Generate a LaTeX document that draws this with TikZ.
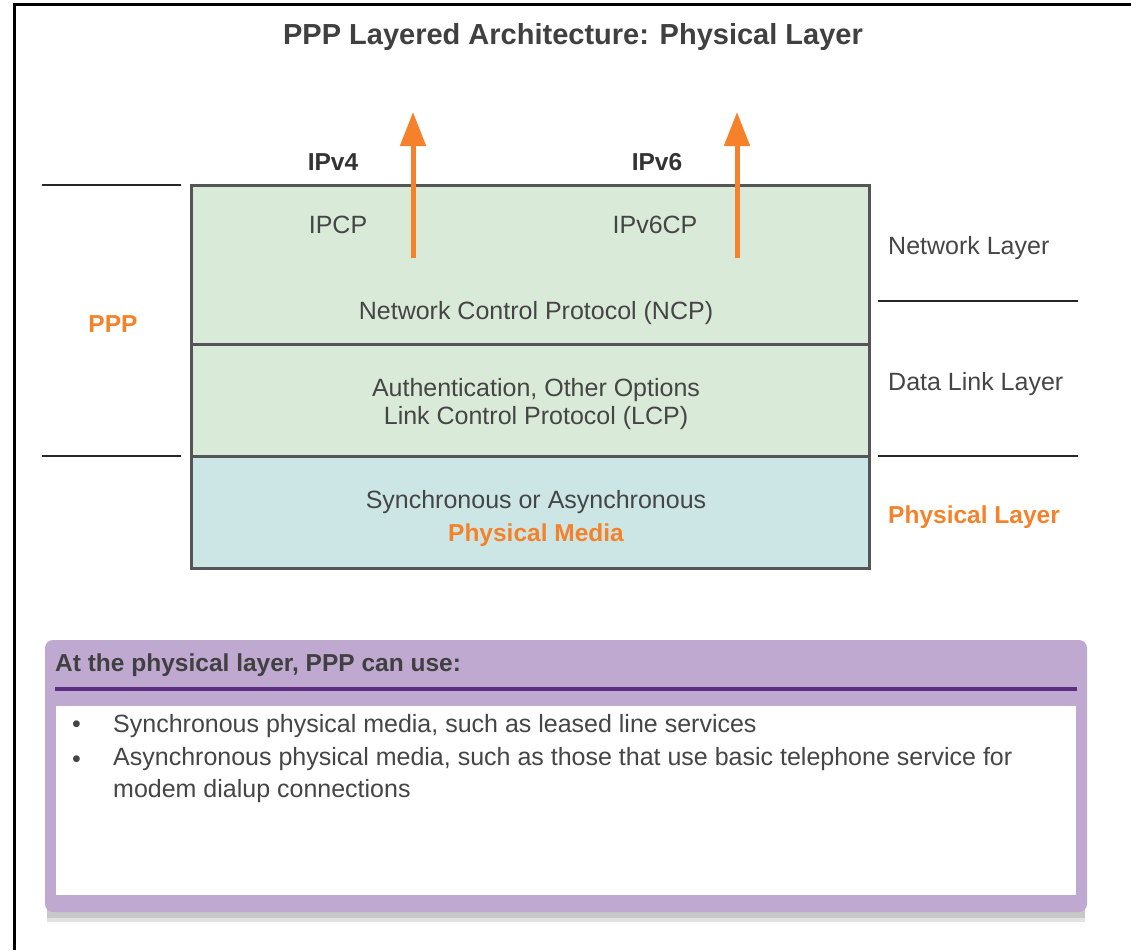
\documentclass[tikz,border=0pt]{standalone}
\usepackage{fontspec}
\setmainfont{Liberation Sans}
\usepackage{xcolor}
\usepackage{tikz}
\usetikzlibrary{arrows.meta,positioning,shadows}

\definecolor{txtgray}{HTML}{454545}
\definecolor{boxline}{HTML}{555555}
\definecolor{ncpgreen}{HTML}{DAEAD8}
\definecolor{phyblue}{HTML}{CCE6E5}
\definecolor{pppor}{HTML}{F5822A}
\definecolor{lilac}{HTML}{C0A9D1}
\definecolor{plum}{HTML}{5C2D80}

\begin{document}
\begin{tikzpicture}[x=1pt,y=-1pt,>={Triangle[width=25pt,length=34pt]},
		every node/.style={inner sep=0pt,yshift=-2.5pt,text=txtgray,font=\fontsize{25}{32}\selectfont}]
		\tikzstyle{layer}=[draw=boxline,line width=3pt,minimum width=678pt,yshift=2.5pt]
		\tikzstyle{bold}=[font=\fontsize{24.5}{30}\selectfont\bfseries,text=black!80]
		\tikzstyle{orange}=[bold,text=pppor]
		\tikzstyle{sep}=[line width=1.6pt,draw=black!85]
		\tikzstyle{up}=[->,line width=5pt,draw=pppor]
		
		\useasboundingbox (0,0) rectangle (1131,950);
		\draw[line width=3pt] (1131,5) -- (14,5) -- (14,950);
		
		\node[font=\fontsize{29}{34}\selectfont\bfseries,text=black!75] (title) at (573,35)
		{PPP Layered Architecture: Physical Layer};
		
		% layer stack
		\node[layer,fill=ncpgreen,minimum height=159pt] (ncp) at (530,264.5) {};
		\node[layer,fill=ncpgreen,minimum height=112pt] (lcp) at (530,400) {};
		\node[layer,fill=phyblue,minimum height=112pt]  (phy) at (530,512) {};
		
		\node[bold] (v4) at (333,160) {IPv4};
		\node[bold] (v6) at (657,160) {IPv6};
		\node (ipcp)   at (338,222) {IPCP};
		\node (ipv6cp) at (655,222) {IPv6CP};
		\node (ncptxt) at (536,311) {Network Control Protocol (NCP)};
		\node[align=center,font=\fontsize{25}{28}\selectfont] (lcptxt) at (536,402)
		{Authentication, Other Options\\Link Control Protocol (LCP)};
		\node (phytxt) at (536,500) {Synchronous or Asynchronous};
		\node[orange] (media) [below=7pt of phytxt] {Physical Media};
		
		% coordinates get the node yshift too
		\coordinate (v4base) at (413,255.5);
		\coordinate (v4tip)  at (413,109.5);
		\coordinate (v6base) at (737,255.5);
		\coordinate (v6tip)  at (737,109.5);
		\draw[up] (v4base) -- (v4tip);
		\draw[up] (v6base) -- (v6tip);
		
		% side labels
		\node[orange] (ppp) at (113,322) {PPP};
		\node[anchor=west] (netl)  at (888,246) {Network Layer};
		\node[anchor=west] (dll)   at (888,382) {Data Link Layer};
		\node[orange,anchor=west] (phyl) at (888,515) {Physical Layer};
		\draw[sep] (42,185) -- (181,185);
		\draw[sep] (42,456) -- (181,456);
		\draw[sep] (878,301) -- (1078,301);
		\draw[sep] (878,456) -- (1078,456);
		
		% note panel
		\fill[black!45,opacity=0.25] (47,652) rectangle (1085,922);
		\fill[black!45,opacity=0.3] (47,652) rectangle (1085,918);
		\fill[lilac,rounded corners=8pt] (45,640) rectangle (1087,912);
		\draw[plum,line width=4pt] (55,689) -- (1077,689);
		\fill[white] (56,706) rectangle (1076,895);
		\node[bold,anchor=west,text=black!75] (head) at (55,663) {At the physical layer, PPP can use:};
		\node[anchor=west] (b1) at (72,724) {\textbullet};
		\node[anchor=west] (b2) at (72,759) {\textbullet};
		\node[anchor=west] (item1) at (113,724) {Synchronous physical media, such as leased line services};
		\node[anchor=north west,align=left] (item2) at (113,745)
		{Asynchronous physical media, such as those that use basic telephone service for\\modem dialup connections};
		\end{tikzpicture}
\end{document}
